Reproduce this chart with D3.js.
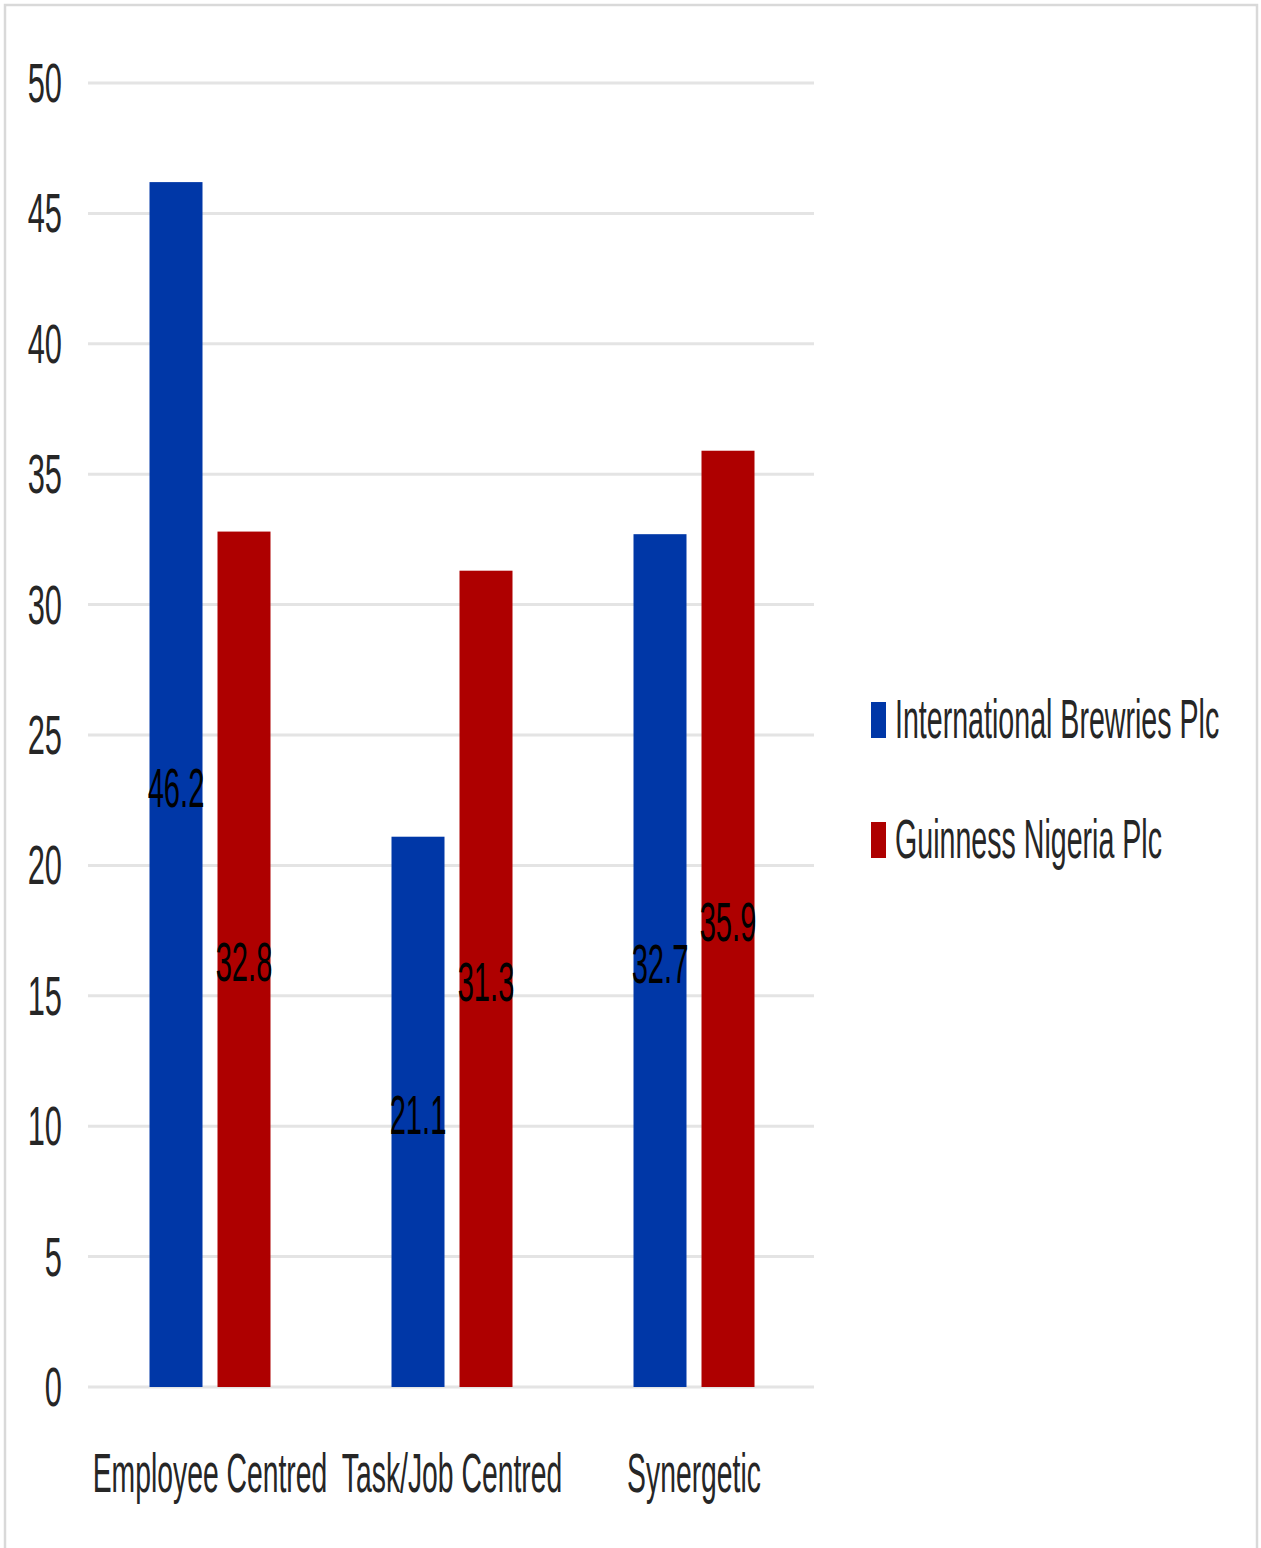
<!DOCTYPE html>
<html><head><meta charset="utf-8">
<script src="https://cdn.jsdelivr.net/npm/d3@7"></script>
<style>html,body{margin:0;padding:0;background:#fff;}svg{display:block;}</style>
</head><body>
<script>
const categories = ["Employee Centred", "Task/Job Centred", "Synergetic"];
const seriesNames = ["International Brewries Plc", "Guinness Nigeria Plc"];
const ibValues = [46.2, 21.1, 32.7];
const gnValues = [32.8, 31.3, 35.9];
const yTicks = [0, 5, 10, 15, 20, 25, 30, 35, 40, 45, 50];
const colors = ["#0037a7", "#ae0000"];

const W = 1261, H = 1548;
const svg = d3.select("body").append("svg").attr("width", W).attr("height", H);
const font = "'Liberation Sans', Arial, sans-serif";
const SX = 0.53, FS = 55;

svg.append("rect").attr("x", 5).attr("y", 5).attr("width", 1252).attr("height", 1560)
  .attr("fill", "#fff").attr("stroke", "#d9d9d9").attr("stroke-width", 2.5);

const y = d3.scaleLinear().domain([0, 50]).range([1387, 83]);
const x0 = d3.scaleBand().domain(categories).range([89, 815]).paddingInner(0.5).paddingOuter(0.25);
const x1 = d3.scaleBand().domain(seriesNames).range([0, x0.bandwidth()]).paddingInner(15/68);

function txt(g, x, yy, s, anchor, sx) {
  return g.append("text").attr("transform", `translate(${x},${yy}) scale(${sx||SX},1)`)
    .attr("text-anchor", anchor).attr("font-family", font).attr("font-size", FS)
    .attr("fill", "#262626").text(s);
}

// gridlines
svg.append("g").selectAll("line").data(yTicks).join("line")
  .attr("x1", 88).attr("x2", 814).attr("y1", d => y(d)).attr("y2", d => y(d))
  .attr("stroke", "#e4e4e4").attr("stroke-width", 3);

// y tick labels
const yg = svg.append("g");
yTicks.forEach(t => txt(yg, 62, y(t) + 19, String(t), "end", 0.56));

// bars
const data = categories.map((c, i) => ({c, vals: [ibValues[i], gnValues[i]]}));
const groups = svg.append("g").selectAll("g").data(data).join("g")
  .attr("transform", d => `translate(${x0(d.c)},0)`);
groups.selectAll("rect").data(d => d.vals.map((v, j) => ({v, s: seriesNames[j], j})))
  .join("rect")
  .attr("x", d => x1(d.s)).attr("width", x1.bandwidth())
  .attr("y", d => y(d.v)).attr("height", d => y(0) - y(d.v))
  .attr("fill", d => colors[d.j]);

// data labels
const lg = svg.append("g");
data.forEach(d => d.vals.forEach((v, j) => {
  const cx = x0(d.c) + x1(seriesNames[j]) + x1.bandwidth() / 2;
  txt(lg, cx, (y(v) + y(0)) / 2 + 22, v.toFixed(1), "middle").attr("fill", "#000");
}));

// category labels
const cg = svg.append("g");
categories.forEach(c => txt(cg, x0(c) + x0.bandwidth() / 2, 1492, c, "middle", 0.515));

// legend
const leg = svg.append("g");
seriesNames.forEach((s, i) => {
  const yy = 702 + i * 120;
  leg.append("rect").attr("x", 871).attr("y", yy).attr("width", 15).attr("height", 36).attr("fill", colors[i]);
  txt(leg, 895, yy + 36, s, "start", 0.52);
});
</script>
</body></html>
